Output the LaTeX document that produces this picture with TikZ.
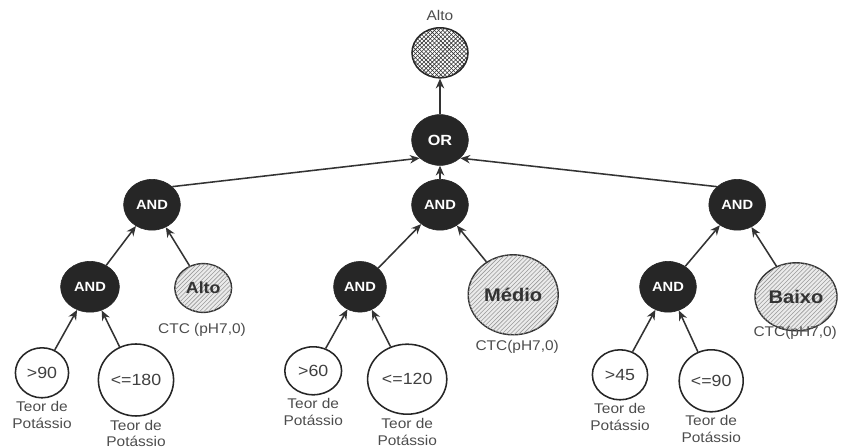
\documentclass[tikz,border=0pt]{standalone}
\usepackage{fontspec}
\setmainfont[FakeStretch=1.1]{Liberation Sans}
\usetikzlibrary{positioning,patterns,shapes.geometric,arrows.meta}

\begin{document}
\begin{tikzpicture}[
    gate/.style={draw=black!85, ellipse, fill=black!85, text=white, font=\bfseries\fontsize{9.5}{11}\selectfont,
      minimum width=1.42cm, minimum height=1.27cm, inner sep=0pt},
    cls/.style={draw=black!80, ellipse, line width=1pt, fill=black!8,
      postaction={pattern=north east lines, pattern color=black!40}, font=\bfseries, text=black!80, inner sep=0pt},
    leaf/.style={draw=black!85, ellipse, line width=1.1pt, fill=white, font=\fontsize{11.5}{13}\selectfont,
      text=black!75, inner sep=0pt},
    lbl/.style={font=\fontsize{10}{12}\selectfont, text=black!70, align=center, inner sep=0pt},
    arr/.style={-{Stealth[length=7pt,width=6pt]}, line width=1.1pt, black!80},
  ]
    \useasboundingbox (0,0) rectangle (21.125,11.2);

    % Result
    \node[draw=black!85, ellipse, line width=1.1pt, fill=white, postaction={pattern=crosshatch, pattern color=black!80},
      minimum width=1.4cm, minimum height=1.25cm] (res) at (11.0,9.88) {};
    \node[lbl, above=4pt of res] (restxt) {Alto};

    % Gates
    \node[gate, font=\bfseries\fontsize{10.5}{12}\selectfont] (orn) at (11.0,7.7) {OR};
    \node[gate] (and1) at (3.8,6.08)   {AND};
    \node[gate] (and2) at (11.0,6.08)  {AND};
    \node[gate] (and3) at (18.43,6.08) {AND};
    \node[gate, minimum width=1.47cm] (and11) at (2.25,4.03) {AND};
    \node[gate, minimum width=1.32cm] (and21) at (9.0,4.03)  {AND};
    \node[gate] (and31) at (16.7,4.03) {AND};

    % CTC classes
    \node[cls, font=\bfseries\fontsize{11.5}{13}\selectfont, minimum width=1.42cm, minimum height=1.22cm] (ctc1) at (5.08,4.0) {Alto};
    \node[cls, font=\bfseries\fontsize{13}{15}\selectfont, minimum width=2.25cm, minimum height=2.0cm] (ctc2) at (12.83,3.83) {Médio};
    \node[cls, font=\bfseries\fontsize{13}{15}\selectfont, minimum width=2.05cm, minimum height=1.7cm] (ctc3) at (19.9,3.78) {Baixo};
    \node[lbl] (c1) at (5.05,2.95)  {CTC (pH7,0)};
    \node[lbl] (c2) at (12.93,2.53) {CTC(pH7,0)};
    \node[lbl] (c3) at (19.88,2.88) {CTC(pH7,0)};

    % Potassium limits
    \node[leaf, minimum width=1.33cm, minimum height=1.25cm] (k11) at (1.05,1.88)  {>90};
    \node[leaf, minimum width=1.88cm, minimum height=1.8cm]  (k12) at (3.4,1.7)    {<=180};
    \node[leaf, minimum width=1.42cm, minimum height=1.2cm]  (k21) at (7.83,1.93)  {>60};
    \node[leaf, minimum width=1.98cm, minimum height=1.75cm] (k22) at (10.18,1.72) {<=120};
    \node[leaf, minimum width=1.38cm, minimum height=1.25cm] (k31) at (15.5,1.83)  {>45};
    \node[leaf, minimum width=1.6cm,  minimum height=1.55cm] (k32) at (17.78,1.68) {<=90};
    \foreach \k in {k11,k12,k21,k22,k31,k32}
      \node[lbl, below=2pt of \k] (t\k) {Teor de\\Potássio};

    % Arrows
    \draw[arr] (k11) -- (and11);
    \draw[arr] (k12) -- (and11);
    \draw[arr] (k21) -- (and21);
    \draw[arr] (k22) -- (and21);
    \draw[arr] (k31) -- (and31);
    \draw[arr] (k32) -- (and31);
    \draw[arr] (and11) -- (and1);
    \draw[arr] (ctc1) -- (and1);
    \draw[arr] (and21) -- (and2);
    \draw[arr] (ctc2) -- (and2);
    \draw[arr] (and31) -- (and3);
    \draw[arr] (ctc3) -- (and3);
    \draw[arr] (and1.north east) -- (orn.south west);
    \draw[arr] (and2) -- (orn);
    \draw[arr] (and3.north west) -- (orn.south east);
    \draw[arr] (orn) -- (res);
\end{tikzpicture}
\end{document}
